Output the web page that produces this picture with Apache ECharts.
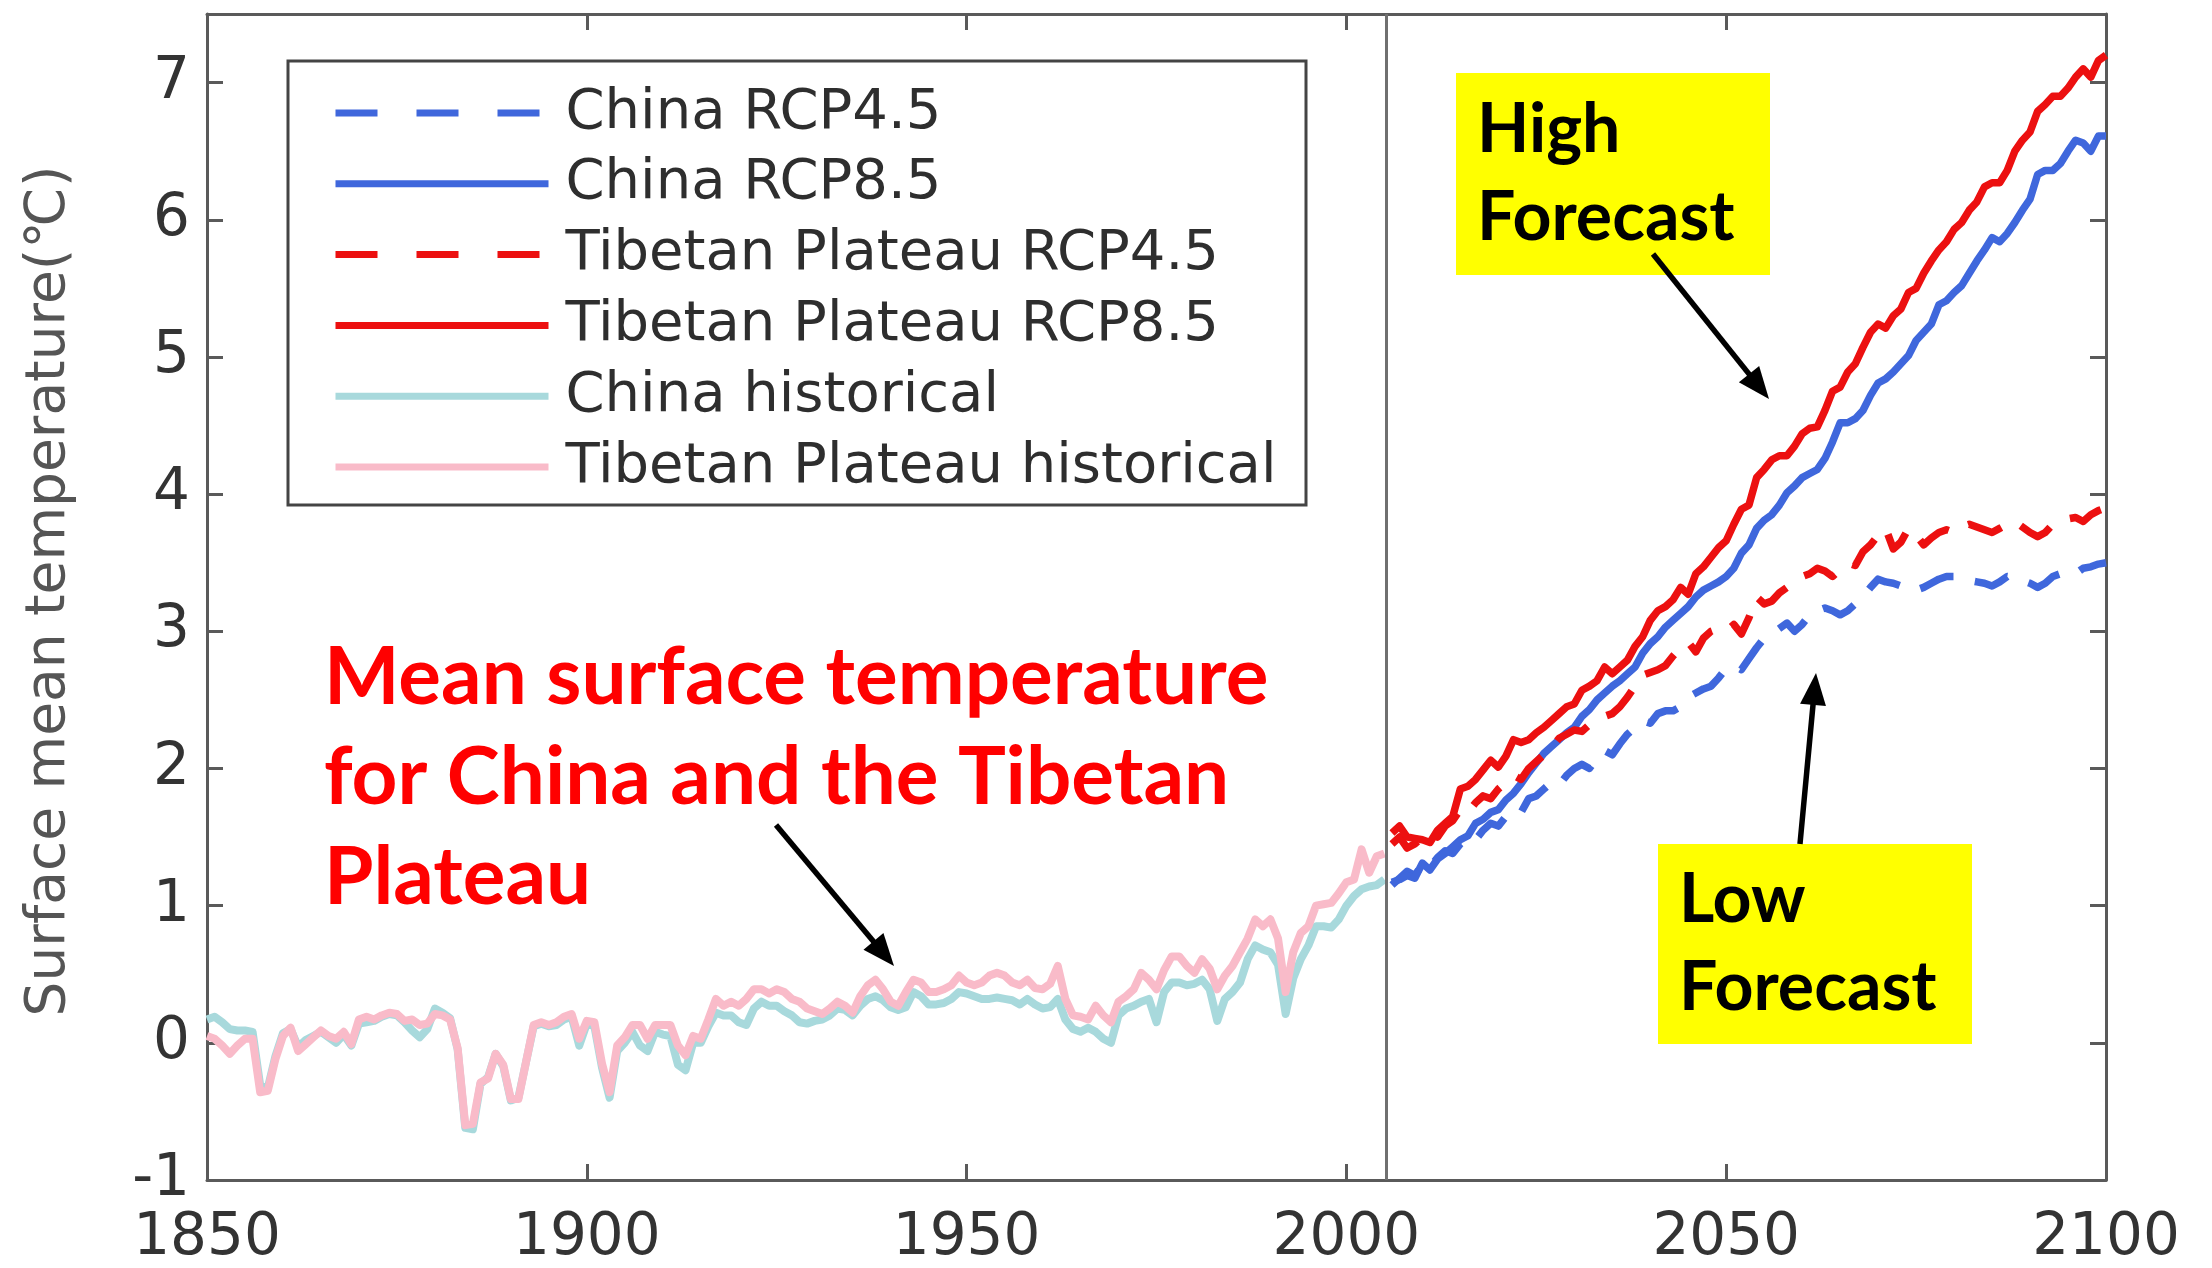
<!DOCTYPE html>
<html><head><meta charset="utf-8">
<script src="https://cdn.jsdelivr.net/npm/echarts@6/dist/echarts.min.js"></script>
<style>html,body{margin:0;padding:0;background:#fff}#c{width:2212px;height:1268px}</style>
</head><body><div id="c"></div>
<script>
// ---------------- DATA ----------------
const histStartYear = 1850;   // historical runs 1850..2005
const tibetHist = [
  0.05, 0.03, -0.02, -0.08, -0.02, 0.03, 0.03, -0.36, -0.35, -0.12,
  0.05, 0.11, -0.06, -0.01, 0.04, 0.09, 0.05, 0.03, 0.08, -0.01,
  0.17, 0.19, 0.17, 0.20, 0.22, 0.21, 0.16, 0.17, 0.13, 0.14,
  0.21, 0.20, 0.17, -0.04, -0.60, -0.59, -0.29, -0.26, -0.08, -0.16,
  -0.41, -0.41, -0.14, 0.13, 0.15, 0.13, 0.15, 0.19, 0.21, 0.03,
  0.16, 0.15, -0.15, -0.36, -0.02, 0.04, 0.13, 0.13, 0.03, 0.13,
  0.13, 0.13, -0.02, -0.09, 0.05, 0.03, 0.17, 0.32, 0.27, 0.30,
  0.27, 0.32, 0.39, 0.39, 0.36, 0.39, 0.37, 0.32, 0.30, 0.25,
  0.23, 0.21, 0.25, 0.30, 0.27, 0.22, 0.34, 0.42, 0.46, 0.39,
  0.30, 0.27, 0.37, 0.46, 0.44, 0.37, 0.37, 0.39, 0.42, 0.49,
  0.44, 0.42, 0.44, 0.49, 0.51, 0.49, 0.44, 0.42, 0.46, 0.40,
  0.39, 0.43, 0.56, 0.32, 0.20, 0.19, 0.17, 0.27, 0.20, 0.15,
  0.30, 0.34, 0.39, 0.51, 0.46, 0.39, 0.53, 0.63, 0.63, 0.56,
  0.51, 0.61, 0.54, 0.39, 0.49, 0.56, 0.66, 0.76, 0.90, 0.85,
  0.90, 0.76, 0.37, 0.66, 0.80, 0.85, 1.00, 1.01, 1.02, 1.09,
  1.17, 1.19, 1.41, 1.24, 1.36, 1.38
];
const chinaHist = [
  0.17, 0.19, 0.15, 0.10, 0.09, 0.09, 0.08, -0.31, -0.33, -0.10,
  0.07, 0.10, -0.03, 0.02, 0.05, 0.08, 0.04, 0.00, 0.06, -0.02,
  0.14, 0.15, 0.16, 0.19, 0.21, 0.20, 0.15, 0.09, 0.04, 0.10,
  0.25, 0.22, 0.18, -0.05, -0.62, -0.63, -0.30, -0.25, -0.08, -0.17,
  -0.42, -0.40, -0.14, 0.12, 0.14, 0.12, 0.13, 0.17, 0.19, -0.02,
  0.14, 0.12, -0.18, -0.40, -0.06, 0.00, 0.08, -0.02, -0.06, 0.08,
  0.06, 0.05, -0.16, -0.20, 0.00, 0.00, 0.12, 0.22, 0.20, 0.20,
  0.15, 0.13, 0.25, 0.30, 0.27, 0.27, 0.23, 0.20, 0.15, 0.14,
  0.16, 0.17, 0.20, 0.25, 0.24, 0.20, 0.27, 0.32, 0.34, 0.31,
  0.26, 0.24, 0.26, 0.37, 0.34, 0.28, 0.28, 0.29, 0.32, 0.37,
  0.36, 0.34, 0.32, 0.32, 0.33, 0.32, 0.31, 0.28, 0.32, 0.28,
  0.25, 0.26, 0.32, 0.17, 0.10, 0.08, 0.11, 0.08, 0.03, 0.00,
  0.20, 0.25, 0.27, 0.30, 0.32, 0.15, 0.37, 0.44, 0.44, 0.42,
  0.43, 0.46, 0.39, 0.16, 0.32, 0.37, 0.44, 0.61, 0.71, 0.68,
  0.66, 0.57, 0.21, 0.47, 0.61, 0.71, 0.85, 0.85, 0.84, 0.90,
  1.00, 1.07, 1.12, 1.14, 1.15, 1.19
];
const rcpStartYear = 2006;    // scenarios run 2006..2100
const chinaRCP45 = [
  1.15, 1.20, 1.25, 1.22, 1.30, 1.28, 1.35, 1.40, 1.38, 1.45,
  1.50, 1.48, 1.55, 1.60, 1.58, 1.65, 1.70, 1.68, 1.78, 1.80,
  1.85, 1.90, 1.88, 1.95, 2.00, 2.03, 2.00, 2.08, 2.13, 2.10,
  2.18, 2.25, 2.30, 2.35, 2.33, 2.40, 2.42, 2.42, 2.45, 2.52,
  2.55, 2.58, 2.60, 2.66, 2.73, 2.75, 2.72, 2.80, 2.88, 2.95,
  2.98, 3.02, 3.06, 3.00, 3.05, 3.12, 3.15, 3.17, 3.15, 3.12,
  3.15, 3.20, 3.25, 3.32, 3.38, 3.36, 3.35, 3.33, 3.30, 3.30,
  3.32, 3.35, 3.38, 3.40, 3.40, 3.39, 3.37, 3.36, 3.35, 3.33,
  3.36, 3.40, 3.39, 3.37, 3.35, 3.32, 3.35, 3.40, 3.42, 3.43,
  3.42, 3.46, 3.47, 3.49, 3.50
];
const chinaRCP85 = [
  1.17, 1.19, 1.22, 1.20, 1.31, 1.26, 1.34, 1.38, 1.43, 1.48,
  1.51, 1.60, 1.63, 1.68, 1.70, 1.77, 1.82, 1.89, 1.97, 2.04,
  2.11, 2.16, 2.21, 2.26, 2.30, 2.38, 2.43, 2.50, 2.55, 2.60,
  2.64, 2.69, 2.74, 2.84, 2.91, 2.96, 3.03, 3.08, 3.13, 3.18,
  3.25, 3.30, 3.33, 3.36, 3.40, 3.46, 3.57, 3.63, 3.75, 3.81,
  3.85, 3.92, 4.01, 4.06, 4.12, 4.15, 4.18, 4.26, 4.38, 4.52,
  4.52, 4.55, 4.61, 4.72, 4.81, 4.84, 4.89, 4.95, 5.01, 5.12,
  5.18, 5.24, 5.38, 5.41, 5.47, 5.52, 5.61, 5.70, 5.78, 5.87,
  5.84, 5.90, 5.98, 6.07, 6.15, 6.33, 6.36, 6.36, 6.41, 6.50,
  6.58, 6.56, 6.50, 6.61, 6.61
];
const tibetRCP45 = [
  1.45, 1.50, 1.42, 1.45, 1.50, 1.55, 1.50, 1.58, 1.62, 1.70,
  1.68, 1.75, 1.80, 1.78, 1.85, 1.90, 1.95, 1.92, 2.00, 2.05,
  2.10, 2.15, 2.22, 2.25, 2.28, 2.27, 2.32, 2.36, 2.38, 2.40,
  2.45, 2.52, 2.60, 2.68, 2.70, 2.72, 2.75, 2.82, 2.88, 2.92,
  2.85, 2.95, 3.00, 3.02, 3.00, 3.05, 2.98, 3.10, 3.25, 3.20,
  3.22, 3.28, 3.32, 3.38, 3.40, 3.42, 3.46, 3.44, 3.40, 3.45,
  3.50, 3.48, 3.58, 3.63, 3.70, 3.75, 3.60, 3.65, 3.75, 3.70,
  3.63, 3.68, 3.72, 3.74, 3.72, 3.76, 3.78, 3.76, 3.74, 3.72,
  3.75, 3.78, 3.80, 3.76, 3.72, 3.69, 3.72, 3.78, 3.80, 3.82,
  3.83, 3.80, 3.85, 3.88, 3.90
];
const tibetRCP85 = [
  1.53, 1.58, 1.50, 1.49, 1.48, 1.46, 1.55, 1.60, 1.65, 1.85,
  1.87, 1.92, 1.99, 2.06, 2.01, 2.09, 2.21, 2.19, 2.21, 2.26,
  2.30, 2.35, 2.40, 2.45, 2.47, 2.57, 2.60, 2.64, 2.74, 2.69,
  2.74, 2.79, 2.89, 2.96, 3.08, 3.15, 3.18, 3.23, 3.32, 3.27,
  3.42, 3.47, 3.54, 3.61, 3.66, 3.78, 3.89, 3.92, 4.12, 4.18,
  4.25, 4.28, 4.28, 4.35, 4.44, 4.48, 4.49, 4.61, 4.75, 4.78,
  4.89, 4.95, 5.07, 5.18, 5.24, 5.21, 5.30, 5.35, 5.47, 5.50,
  5.61, 5.70, 5.78, 5.84, 5.93, 5.98, 6.07, 6.13, 6.24, 6.27,
  6.27, 6.36, 6.50, 6.58, 6.64, 6.79, 6.84, 6.90, 6.90, 6.96,
  7.04, 7.10, 7.04, 7.16, 7.20
];
const seriesNames = ['China RCP4.5', 'China RCP8.5', 'Tibetan Plateau RCP4.5',
  'Tibetan Plateau RCP8.5', 'China historical', 'Tibetan Plateau historical'];
const scenarioBoundaryYear = 2005.2;
const xRange = [1850, 2100], xStep = 50;
const yRange = [-1, 7.5], yStep = 1;

// ---------------- CHART ----------------
const pairs = (start, arr) => arr.map((v, i) => [start + i, v]);
const BLUE = '#3F67DC', RED = '#EC1010', CYAN = '#A8D9DC', PINK = '#F9BBC9';
const seriesColors = [BLUE, BLUE, RED, RED, CYAN, PINK];
const dashPlot = [36, 22], dashLegend = [42, 39];
const AX = '#5a5a5a';
const FONT = 'DejaVu Sans';

function lineSeries(name, data, color, dashed, z, width) {
  return {
    name, type: 'line', data, symbol: 'none', showSymbol: false, animation: false, z,
    lineStyle: { color, width, type: dashed ? dashPlot : 'solid', cap: 'butt', join: 'round' },
    itemStyle: { color }
  };
}

function arrow(x1, y1, x2, y2) {
  const dx = x2 - x1, dy = y2 - y1, L = Math.hypot(dx, dy);
  const ux = dx / L, uy = dy / L, hl = 32, hw = 13;
  const bx = x2 - ux * hl, by = y2 - uy * hl;
  return [
    { type: 'line', z: 100, shape: { x1, y1, x2: x2 - ux * (hl - 4), y2: y2 - uy * (hl - 4) },
      style: { stroke: '#000', lineWidth: 5.5 } },
    { type: 'polygon', z: 100, shape: { points: [[x2, y2], [bx - uy * hw, by + ux * hw], [bx + uy * hw, by - ux * hw]] },
      style: { fill: '#000' } }
  ];
}

const chart = echarts.init(document.getElementById('c'), null, { renderer: 'canvas' });
const axisCommon = {
  type: 'value', splitLine: { show: false },
  axisLine: { show: true, onZero: false, lineStyle: { color: AX, width: 3 } },
  axisTick: { show: true, inside: true, length: 16, lineStyle: { color: AX, width: 3 } }
};
const plain = v => String(v);
const option = {
  backgroundColor: '#fff',
  animation: false,
  grid: { left: 207, right: 106, top: 14, bottom: 86, containLabel: false },
  xAxis: [
    Object.assign({}, axisCommon, {
      min: xRange[0], max: xRange[1], interval: xStep, position: 'bottom',
      axisLabel: { show: true, margin: 30, color: '#333', fontFamily: FONT, fontSize: 58, formatter: plain }
    }),
    Object.assign({}, axisCommon, {
      min: xRange[0], max: xRange[1], interval: xStep, position: 'top',
      axisLabel: { show: false }
    })
  ],
  yAxis: [
    Object.assign({}, axisCommon, {
      min: yRange[0], max: yRange[1], interval: yStep, position: 'left',
      axisLabel: { show: true, margin: 17, color: '#333', fontFamily: FONT, fontSize: 58, showMaxLabel: false, formatter: plain },
      name: 'Surface mean temperature(℃)', nameLocation: 'middle', nameGap: 130,
      nameTextStyle: { color: '#555', fontFamily: FONT, fontSize: 55, padding: [0, 0, 0, 12] }
    }),
    Object.assign({}, axisCommon, {
      min: yRange[0], max: yRange[1], interval: yStep, position: 'right',
      axisLabel: { show: false }
    })
  ],
  legend: {
    show: true, orient: 'vertical', left: 332, top: 83, padding: 0,
    itemWidth: 213, itemHeight: 14, itemGap: 10.8,
    textStyle: { color: '#2e2e2e', fontFamily: FONT, fontSize: 56, lineHeight: 60, padding: [0, 0, 0, 12] },
    data: seriesNames.map((n, i) => ({
      name: n,
      itemStyle: { opacity: 0, color: 'rgba(0,0,0,0)', borderWidth: 0 },
      lineStyle: { color: seriesColors[i], opacity: 1, type: (i === 0 || i === 2) ? dashLegend : 'solid', width: 7, cap: 'butt' }
    }))
  },
  series: [
    lineSeries(seriesNames[4], pairs(histStartYear, chinaHist), CYAN, false, 2, 8),
    lineSeries(seriesNames[5], pairs(histStartYear, tibetHist), PINK, false, 3, 8),
    lineSeries(seriesNames[0], pairs(rcpStartYear, chinaRCP45), BLUE, true, 4, 7.5),
    lineSeries(seriesNames[1], pairs(rcpStartYear, chinaRCP85), BLUE, false, 5, 7.5),
    lineSeries(seriesNames[2], pairs(rcpStartYear, tibetRCP45), RED, true, 6, 7.5),
    lineSeries(seriesNames[3], pairs(rcpStartYear, tibetRCP85), RED, false, 7, 7.5)
  ],
  graphic: [
    { type: 'rect', z: 1, shape: { x: 288, y: 61, width: 1018, height: 444 },
      style: { fill: '#fff', stroke: '#444', lineWidth: 3 } },
    { type: 'text', z: 100, x: 324, y: 628,
      style: { text: 'Mean surface temperature\nfor China and the Tibetan\nPlateau', fill: '#FF0000',
        font: 'bold 80px Lato', lineHeight: 100, verticalAlign: 'top', align: 'left' } },
    { type: 'rect', z: 99, shape: { x: 1456, y: 73, width: 314, height: 202 }, style: { fill: '#FFFF00' } },
    { type: 'text', z: 100, x: 1477, y: 86,
      style: { text: 'High\nForecast', fill: '#000', font: 'bold 68px Lato', lineHeight: 88, verticalAlign: 'top', align: 'left' } },
    { type: 'rect', z: 99, shape: { x: 1658, y: 844, width: 314, height: 200 }, style: { fill: '#FFFF00' } },
    { type: 'text', z: 100, x: 1679, y: 856,
      style: { text: 'Low\nForecast', fill: '#000', font: 'bold 68px Lato', lineHeight: 88, verticalAlign: 'top', align: 'left' } },
    ...arrow(776, 825, 894, 966),
    ...arrow(1653, 254, 1769, 399),
    ...arrow(1800, 844, 1816, 673)
  ]
};
option.series[3].markLine = {
  silent: true, symbol: 'none', animation: false, label: { show: false },
  lineStyle: { color: '#707070', width: 3, type: 'solid' },
  data: [{ xAxis: scenarioBoundaryYear }]
};
chart.setOption(option);
</script></body></html>
